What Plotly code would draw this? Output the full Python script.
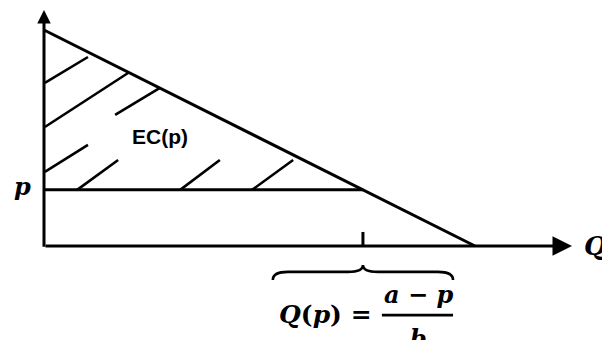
import plotly.graph_objects as go

# Linear demand p = a - b*Q and a market price p0
a = 10.0          # price intercept
b = 1.0           # slope of demand
p0 = 2.6          # market price
q_max = a / b     # quantity intercept
q_p = (a - p0) / b  # quantity demanded at p0

# Hatching strokes inside the consumer-surplus triangle (Q0, P0, Q1, P1)
hatch_strokes = [
    (0.02, 7.55, 1.02, 8.75),
    (0.02, 5.51, 1.95, 8.01),
    (1.65, 6.07, 2.69, 7.32),
    (0.02, 3.43, 1.02, 4.68),
    (0.77, p0, 1.72, 3.98),
    (3.16, p0, 4.08, 3.98),
    (4.83, p0, 5.78, 3.98),
]

# Axis extents (data units) and arrow tips
x_range = [-1.0209, 12.9466]
y_range = [-4.3519, 11.3889]
x_tip = 12.25
y_tip = 10.93

INK = "black"
LW = 3

fig = go.Figure()

# Demand line
fig.add_trace(go.Scatter(x=[0, q_max], y=[a, 0], mode="lines",
                         line=dict(color=INK, width=LW), hoverinfo="skip"))
# Price line
fig.add_trace(go.Scatter(x=[0, q_p], y=[p0, p0], mode="lines",
                         line=dict(color=INK, width=LW), hoverinfo="skip"))
# Tick at Q(p)
fig.add_trace(go.Scatter(x=[q_p, q_p], y=[0, 0.65], mode="lines",
                         line=dict(color=INK, width=LW), hoverinfo="skip"))

# Hatching
for x0, y0, x1, y1 in hatch_strokes:
    fig.add_trace(go.Scatter(x=[x0, x1], y=[y0, y1], mode="lines",
                             line=dict(color=INK, width=2.6), hoverinfo="skip"))

# Axes with arrowheads
fig.add_annotation(x=x_tip, y=0, ax=0, ay=0, xref="x", yref="y", axref="x", ayref="y",
                   text="", showarrow=True, arrowhead=2, arrowsize=1.3, arrowwidth=LW,
                   arrowcolor=INK, standoff=0, startstandoff=0)
fig.add_annotation(x=0, y=y_tip, ax=0, ay=-0.1, xref="x", yref="y", axref="x", ayref="y",
                   text="", showarrow=True, arrowhead=2, arrowsize=0.9, arrowwidth=LW,
                   arrowcolor=INK, standoff=0, startstandoff=0)

# Curly brace under the quantity axis, centred on Q(p)
half = 2.09
r = 0.35
y_end, y_body, y_peak = -1.57, -1.20, -0.88
xl, xr = q_p - half, q_p + half
brace = (f"M {xl},{y_end} Q {xl},{y_body} {xl + r},{y_body} "
         f"L {q_p - r},{y_body} Q {q_p},{y_body} {q_p},{y_peak} "
         f"Q {q_p},{y_body} {q_p + r},{y_body} "
         f"L {xr - r},{y_body} Q {xr},{y_body} {xr},{y_end}")
fig.add_shape(type="path", path=brace, xref="x", yref="y",
              line=dict(color=INK, width=2.6))

# Fraction bar
fig.add_shape(type="line", x0=7.84, x1=9.49, y0=-3.20, y1=-3.20, xref="x", yref="y",
              line=dict(color=INK, width=2.6))

serif = "DejaVu Serif"
labels = [
    dict(x=2.69, y=5.05, text="<b>EC(p)</b>", font=dict(family="Liberation Sans", size=21)),
    dict(x=-0.51, y=p0 + 0.15, text="<b><i>p</i></b>", font=dict(family=serif, size=24)),
    dict(x=12.80, y=0.0, text="<b><i>Q</i></b>", font=dict(family=serif, size=26)),
    dict(x=6.52, y=-3.15, text="<b><i>Q</i>(<i>p</i>) =</b>", font=dict(family=serif, size=25)),
    dict(x=8.68, y=-2.25, text="<b><i>a</i> − <i>p</i></b>", font=dict(family=serif, size=24)),
    dict(x=8.68, y=-4.30, text="<b><i>b</i></b>", font=dict(family=serif, size=24)),
]
for lab in labels:
    fig.add_annotation(xref="x", yref="y", showarrow=False, xanchor="center",
                       yanchor="middle", font_color=INK, **lab)

fig.update_layout(
    width=602, height=340, autosize=False,
    margin=dict(l=0, r=0, t=0, b=0),
    paper_bgcolor="white", plot_bgcolor="white",
    showlegend=False,
    xaxis=dict(range=x_range, visible=False, fixedrange=True),
    yaxis=dict(range=y_range, visible=False, fixedrange=True),
)

fig.write_html("out.html")
